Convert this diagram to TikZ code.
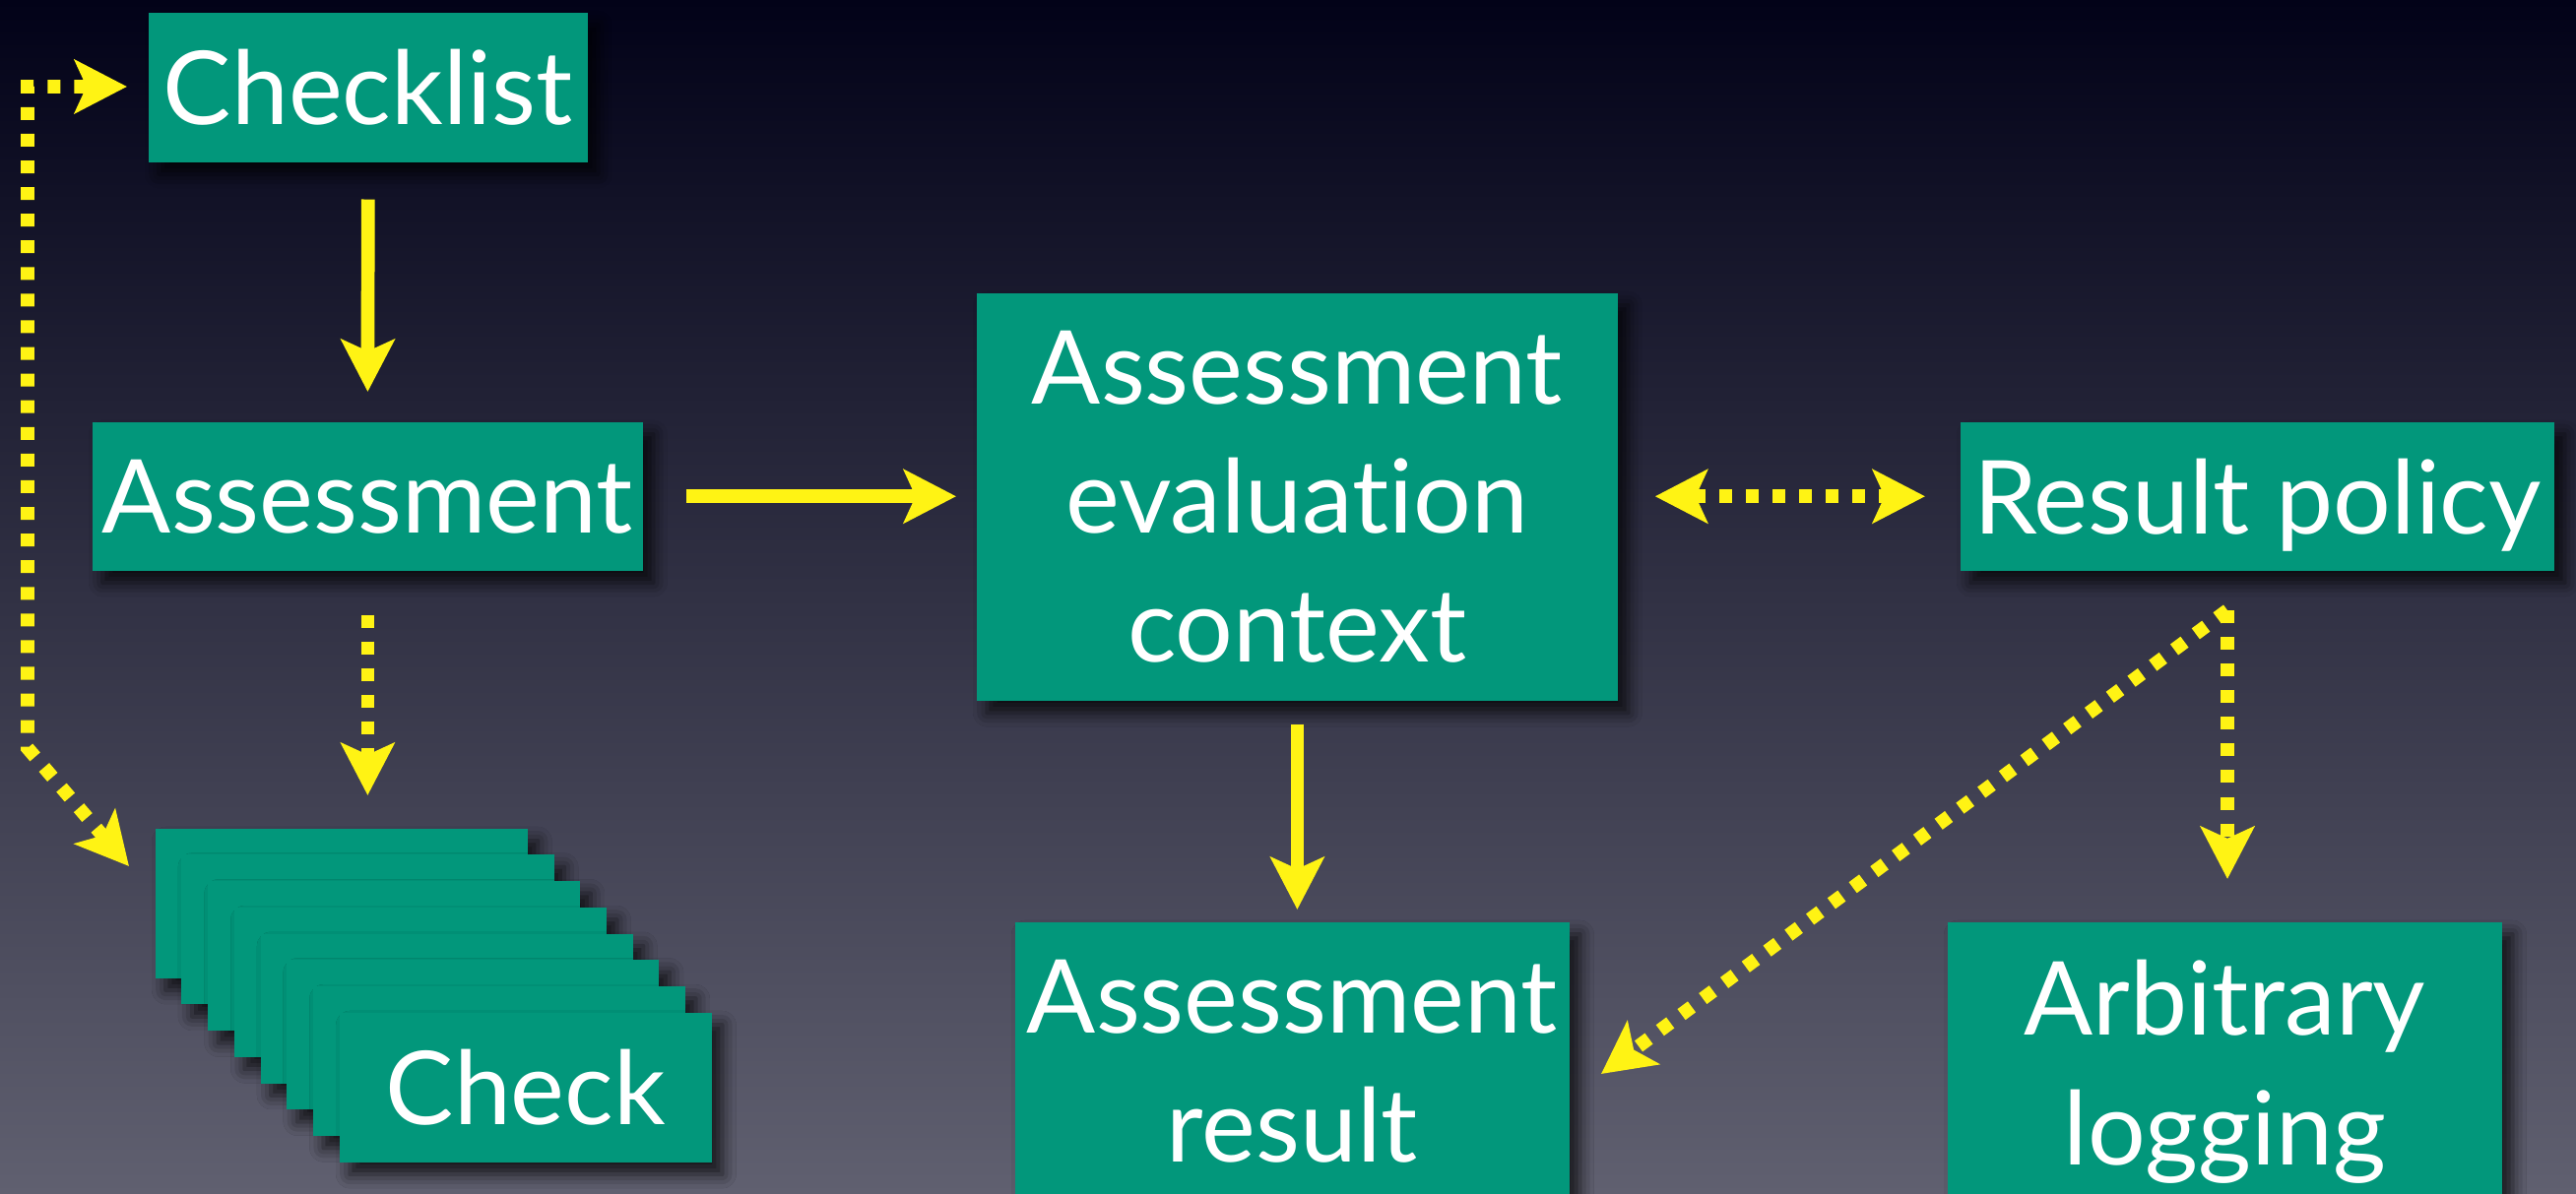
\documentclass[tikz,border=0pt]{standalone}
\usepackage{fontspec}
\setmainfont{Lato}[Ligatures={NoCommon}]
\usetikzlibrary{arrows.meta,shadows.blur}
\definecolor{boxteal}{RGB}{2,151,123}
\definecolor{arrowyellow}{RGB}{255,243,20}
\definecolor{bgtop}{RGB}{2,2,24}
\definecolor{bgmid}{RGB}{44,44,66}
\definecolor{bgbot}{RGB}{96,96,112}
\tikzset{
  tealbox/.style={fill=boxteal, text=white, inner sep=0pt, anchor=north west,
    font=\fontsize{29.5}{37.3}\selectfont, align=center,
    blur shadow={shadow xshift=3pt, shadow yshift=-3.5pt, shadow blur radius=4pt, shadow opacity=75}},
  onelinebox/.style={tealbox, text depth=0pt},
  solidarrow/.style={draw=arrowyellow, line width=3.9pt,
    >={Stealth[length=15.1pt,width=15.4pt,inset=3.4pt]}},
  dotarrow/.style={solidarrow, dash pattern=on 3.7pt off 4pt},
}
\begin{document}
\begin{tikzpicture}[x=0.01cm,y=-0.01cm]
\useasboundingbox (0,0) rectangle (2616,1213);
\clip (0,0) rectangle (2616,1213);
\shade[top color=bgtop, middle color=bgmid, bottom color=bgbot] (0,0) rectangle (2616,1213);

% boxes
\node[onelinebox, minimum width=4.46cm, minimum height=1.52cm] (checklist) at (150,12) {Checklist};
\node[onelinebox, minimum width=5.59cm, minimum height=1.51cm] (assess) at (93,428) {Assessment};
\node[tealbox, minimum width=6.51cm, minimum height=4.14cm] (ctx) at (991,297) {Assessment\\evaluation\\context};
\node[onelinebox, minimum width=6.03cm, minimum height=1.51cm] (policy) at (1990,428) {Result policy};
\node[tealbox, minimum width=5.63cm, minimum height=2.83cm] (result) at (1030,936) {Assessment\\result};
\node[tealbox, minimum width=5.63cm, minimum height=3.04cm] (logging) at (1977,936) {Arbitrary\\logging};

% stack of checks
\foreach \i in {0,...,6}{
  \node[onelinebox, minimum width=3.78cm, minimum height=1.52cm] (card\i) at ({157+26.7*\i},{841+26.7*\i}) {};
}
\node[onelinebox, minimum width=3.78cm, minimum height=1.52cm] (card7) at (344,1028) {Check};

% coordinates
\coordinate (ckin) at (131,880);
\coordinate (loopb) at (28,760);
\coordinate (loopt) at (28,88);
\coordinate (rpout) at (2262,620);
\coordinate (restip) at (1626,1091);

% connectors
\draw[solidarrow, ->, shorten <=0.37cm, shorten >=0.30cm] (checklist.south) -- (assess.north);
\draw[solidarrow, ->, shorten <=0.43cm, shorten >=0.20cm] (assess.east) -- (assess.east -| ctx.west);
\draw[solidarrow, ->, shorten <=0.23cm, shorten >=0.12cm] (ctx.south) -- (ctx.south |- result.north);
\draw[dotarrow, ->, shorten <=0.44cm, shorten >=0.33cm] (assess.south) -- (assess.south |- card0.north);
\draw[dotarrow, <->, shorten <=0.37cm, shorten >=0.35cm] (ctx.east |- policy.west) -- (policy.west);
\draw[dotarrow, <->, shorten >=0.21cm] (ckin) -- (loopb) -- (loopt) -- (loopt -| checklist.west);
\draw[dotarrow, ->, shorten >=0.43cm] (rpout) -- (rpout |- logging.north);
\draw[dotarrow, ->] (rpout) -- (restip);
\end{tikzpicture}
\end{document}
